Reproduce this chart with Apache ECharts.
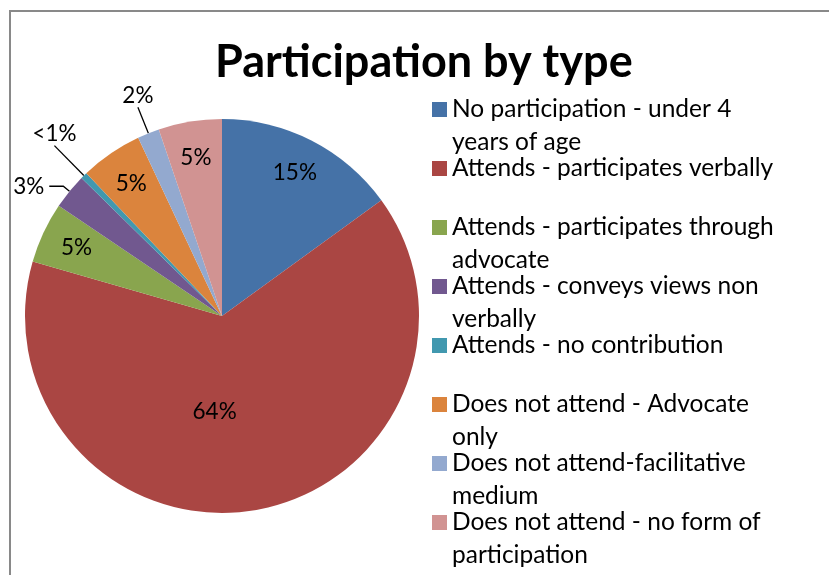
<!DOCTYPE html>
<html>
<head>
<meta charset="utf-8">
<script src="https://cdn.jsdelivr.net/npm/echarts@6/dist/echarts.min.js"></script>
<style>
  html, body { margin: 0; padding: 0; background: #fff; }
  #chart { width: 829px; height: 575px; }
</style>
</head>
<body>
<div id="chart"></div>
<script>
// ---- data ----
const categories = [
  "No participation - under 4 years of age",
  "Attends - participates verbally",
  "Attends - participates through advocate",
  "Attends - conveys views non verbally",
  "Attends - no contribution",
  "Does not attend - Advocate only",
  "Does not attend-facilitative medium",
  "Does not attend - no form of participation"
];
const values = [15, 64.5, 5, 2.9, 0.55, 5.1, 1.8, 5.2];
const valueLabels = ["15%", "64%", "5%", "3%", "<1%", "5%", "2%", "5%"];
const legendLines = [
  "No participation - under 4\nyears of age",
  "Attends - participates verbally\n ",
  "Attends - participates through\nadvocate",
  "Attends - conveys views non\nverbally",
  "Attends - no contribution\n ",
  "Does not attend - Advocate\nonly",
  "Does not attend-facilitative\nmedium",
  "Does not attend - no form of\nparticipation"
];
const colors = ["#4572A7", "#AA4643", "#89A54E", "#71588F", "#4198AF", "#DB843D", "#93A9CF", "#D19392"];

// ---- chart ----
const FONT = "Lato";
const LFS = 24.5;
const LH = 33;
const R = 197;
const center = [222, 316];
const mainInside = [1];          // label at half radius
const ringInside = [0, 2, 5, 7]; // label near the rim
const outsideCfg = {
  3: { length: 8, length2: 14 },
  4: { length: 42, length2: 0 },
  6: { length: 28, length2: 0 }
};
const labelAbove = [4, 6];

const mainData = categories.map((name, i) => {
  const item = { name, value: values[i], itemStyle: { color: colors[i] } };
  if (mainInside.includes(i)) {
    item.label = { show: true, position: 'inside', offset: [-25, -4] };
  } else if (outsideCfg[i]) {
    item.label = { show: true, position: 'outside' };
    item.labelLine = { show: true, length: outsideCfg[i].length, length2: outsideCfg[i].length2, smooth: false,
      lineStyle: { color: '#000', width: 1.3 } };
  } else {
    item.label = { show: false };
    item.labelLine = { show: false };
  }
  return item;
});
const ringData = categories.map((name, i) => ({
  name, value: values[i],
  label: { show: ringInside.includes(i) }
}));

// legend icon: square aligned with first text line
const iconH = LH * 2 / 2 + 15 / 2 + 7.5;
const iconPath = 'path://M0,0h15v15h-15zM0,' + iconH;

const chart = echarts.init(document.getElementById('chart'), null, { renderer: 'canvas' });
chart.setOption({
  animation: false,
  backgroundColor: '#ffffff',
  color: colors,
  title: {
    text: 'Participation by type',
    left: 215, top: 40,
    padding: 0,
    textStyle: { fontFamily: FONT, fontWeight: 'bold', fontSize: 45, color: '#000' }
  },
  legend: {
    orient: 'vertical',
    left: 432, top: 93,
    padding: 0,
    itemGap: -7,
    icon: iconPath,
    itemWidth: 15, itemHeight: iconH,
    selectedMode: false,
    data: categories,
    formatter: name => legendLines[categories.indexOf(name)],
    textStyle: { fontFamily: FONT, fontSize: LFS, color: '#000', lineHeight: LH }
  },
  graphic: [{
    type: 'rect', silent: true, z: -1,
    shape: { x: 10, y: 11, width: 840, height: 600 },
    style: { fill: 'none', stroke: '#898989', lineWidth: 2 }
  }],
  series: [
    {
      type: 'pie',
      center, radius: R,
      startAngle: 90, clockwise: true,
      avoidLabelOverlap: false,
      data: mainData,
      itemStyle: { borderWidth: 0 },
      label: {
        fontFamily: FONT, fontSize: 22.5, color: '#000',
        formatter: p => valueLabels[p.dataIndex]
      },
      labelLayout: p => {
        const pts = p.labelLinePoints;
        if (labelAbove.includes(p.dataIndex) && pts) {
          const e = pts[1];
          return {
            x: e[0], y: e[1], align: 'center', verticalAlign: 'bottom',
            labelLinePoints: [pts[0], e, e]
          };
        }
        return {};
      },
      emphasis: { disabled: true }
    },
    {
      type: 'pie',
      center, radius: [R * 0.6, R],
      startAngle: 90, clockwise: true,
      silent: true,
      avoidLabelOverlap: false,
      data: ringData,
      itemStyle: { color: 'rgba(0,0,0,0)', borderWidth: 0 },
      label: {
        position: 'inside',
        fontFamily: FONT, fontSize: 22.5, color: '#000',
        formatter: p => valueLabels[p.dataIndex]
      },
      labelLine: { show: false },
      emphasis: { disabled: true }
    }
  ]
});
</script>
</body>
</html>
